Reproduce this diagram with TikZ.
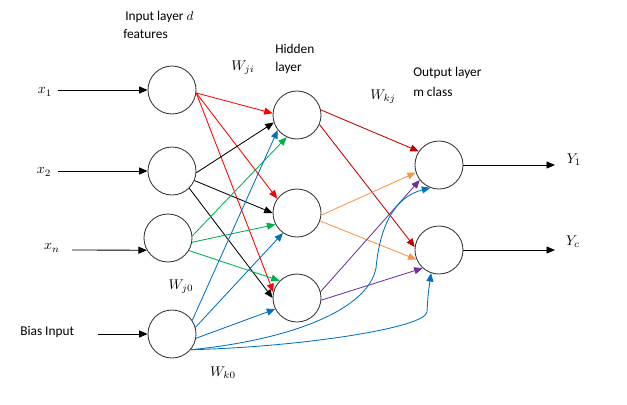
\documentclass[tikz,border=0pt]{standalone}
\usepackage{fontspec}
\setmainfont{Carlito}
\usetikzlibrary{arrows.meta}
\definecolor{WireRed}{RGB}{255,0,0}
\definecolor{WireDark}{RGB}{192,0,0}
\definecolor{WireOrange}{RGB}{247,150,70}
\definecolor{WirePurple}{RGB}{112,48,160}
\definecolor{WireBlue}{RGB}{0,112,192}
\definecolor{WireGreen}{RGB}{0,176,80}

\begin{document}
\begin{tikzpicture}[x=0.025cm,y=-0.025cm,
  neuron/.style={circle,draw=black!80,line width=0.6pt,minimum size=1.2cm,inner sep=0pt},
  wire/.style={line width=0.6pt,-{Triangle[length=6pt,width=5pt]}},
  lbl/.style={font=\fontsize{9.5}{11}\selectfont,inner sep=0pt,anchor=west},
  sym/.style={font=\fontsize{10}{12}\selectfont,inner sep=0pt}]
\useasboundingbox (0,0) rectangle (627,404);

\node[neuron] (I1) at (172,90) {};
\node[neuron] (I2) at (172,171) {};
\node[neuron] (In) at (168,238) {};
\node[neuron] (Ib) at (172,334) {};
\node[neuron] (H1) at (297,115) {};
\node[neuron] (H2) at (297,213) {};
\node[neuron] (H3) at (297,298) {};
\node[neuron] (O1) at (439,165) {};
\node[neuron] (O2) at (439,250) {};

\node[sym] (X1) at (45,92) {$x_1$};
\node[sym] (X2) at (44,172) {$x_2$};
\node[sym] (Xn) at (52,248) {$x_n$};
\node[lbl] (B) at (20,332) {Bias Input};
\node[sym] (Y1) at (574,160) {$Y_1$};
\node[sym] (Yc) at (573,242) {$Y_c$};
\coordinate (X1s) at (58,90);
\coordinate (X2s) at (58,171);
\coordinate (Xns) at (72,250);
\coordinate (Bs) at (98,334);
\coordinate (Y1e) at (555,165);
\coordinate (Yce) at (555,250);

\draw[wire] (X1s) -- (I1);
\draw[wire] (X2s) -- (I2);
\draw[wire] (Xns) -- (In.210);
\draw[wire] (Bs) -- (Ib);
\draw[wire] (O1) -- (Y1e);
\draw[wire] (O2) -- (Yce);

\foreach \a/\b in {I1.-7/H1.176,I1.-7/H2.144,I1.-7/H3.166}
  \draw[wire,WireRed] (\a) -- (\b);
\foreach \a/\b in {I2.-4/H1.198,I2.-23/H2.180,I2.-45/H3.180}
  \draw[wire,black] (\a) -- (\b);
\foreach \a/\b in {In.5/H1.245,In.-10/H2.208,In.-31/H3.135}
  \draw[wire,WireGreen] (\a) -- (\b);
\foreach \a/\b in {Ib.34/H1.218,Ib.16/H2.235,Ib.-10/H3.207}
  \draw[wire,WireBlue] (\a) -- (\b);
\foreach \a/\b in {H1.12/O1.146,H1.-23/O2.173}
  \draw[wire,WireDark] (\a) -- (\b);
\foreach \a/\b in {H2.-5/O1.198,H2.-19/O2.203}
  \draw[wire,WireOrange] (\a) -- (\b);
\foreach \a/\b in {H3.15/O1.218,H3.-5/O2.228}
  \draw[wire,WirePurple] (\a) -- (\b);

\draw[wire,WireBlue] (Ib.-40) .. controls (290,340) and (368,310) .. (376,268) .. controls (380,225) and (395,197) .. (O1.249);
\draw[wire,WireBlue] (Ib.-40) .. controls (300,347) and (425,328) .. (427,312) .. controls (428,295) .. (O2.251);

\node[lbl] at (125,17) {Input layer $d$};
\node[lbl] at (123,34) {features};
\node[lbl] at (275,49) {Hidden};
\node[lbl] at (275,68) {layer};
\node[lbl] at (413,73) {Output layer};
\node[lbl] at (413,92) {m class};
\node[sym] at (243,68) {$W_{ji}$};
\node[sym] at (383,97) {$W_{kj}$};
\node[sym] at (181,287) {$W_{j0}$};
\node[sym] at (223,373) {$W_{k0}$};

\end{tikzpicture}
\end{document}
